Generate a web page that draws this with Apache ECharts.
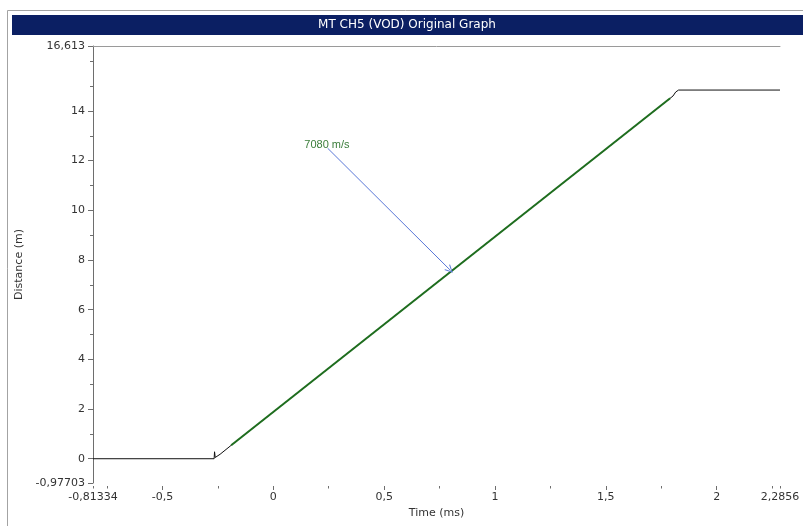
<!DOCTYPE html>
<html>
<head>
<meta charset="utf-8">
<title>MT CH5 (VOD) Original Graph</title>
<script src="https://cdn.jsdelivr.net/npm/echarts@6/dist/echarts.min.js"></script>
<style>
  html, body { margin: 0; padding: 0; background: #ffffff; }
  #chart { width: 803px; height: 526px; }
</style>
</head>
<body>
<div id="chart"></div>
<script>
// Axis extents (time in ms, distance in m)
const timeMin = -0.81334;
const timeMax = 2.2856;
const distMin = -0.97703;
const distMax = 16.613;

// Tick positions
const timeMajorTicks = [-0.5, 0, 0.5, 1, 1.5, 2];
const timeMinorTicks = [-0.81334, -0.75, -0.25, 0.25, 0.75, 1.25, 1.75, 2.25, 2.2856];
const timeLabels = [-0.81334, -0.5, 0, 0.5, 1, 1.5, 2, 2.2856];
const distMajorTicks = [-0.97703, 0, 2, 4, 6, 8, 10, 12, 14, 16.613];
const distMinorTicks = [1, 3, 5, 7, 9, 11, 13, 15, 16];
const distLabels = [-0.97703, 0, 2, 4, 6, 8, 10, 12, 14, 16.613];

// Recorded probe trace: [time ms, distance m]
const probeTrace = [
  [-0.81334, 0], [-0.267, 0], [-0.265, 0.28], [-0.262, 0.05], [-0.24, 0.18],
  [-0.19, 0.54], [0, 1.88], [0.5, 5.41], [1, 8.94], [1.5, 12.46],
  [1.803, 14.6], [1.815, 14.76], [1.828, 14.84], [2.2856, 14.84]
];

// Fitted velocity segment (7080 m/s)
const fitLine = [[-0.19, 0.54], [1.79, 14.51]];
const fitLabel = '7080 m/s';
const fitLabelAt = [0.14, 12.63];
const arrowFrom = [0.245, 12.5];
const arrowTo = [0.797, 7.6];

const fontFamily = '"DejaVu Sans", sans-serif';
const labelColor = '#333333';
const axisColor = '#6e6e6e';
const commaFmt = v => String(v).replace('.', ',');

const chart = echarts.init(document.getElementById('chart'), null, { renderer: 'canvas' });

chart.setOption({
  animation: false,
  backgroundColor: '#ffffff',
  title: {
    text: 'MT CH5 (VOD) Original Graph',
    left: 407,
    top: 18,
    textAlign: 'center',
    padding: 0,
    textStyle: { color: '#ffffff', fontFamily, fontSize: 12, fontWeight: 'normal', lineHeight: 14 }
  },
  graphic: [
    { type: 'line', shape: { x1: 7.5, y1: 10.5, x2: 803, y2: 10.5 }, style: { stroke: '#a3a3a3', lineWidth: 1 }, z: -1 },
    { type: 'line', shape: { x1: 7.5, y1: 10.5, x2: 7.5, y2: 526 }, style: { stroke: '#a3a3a3', lineWidth: 1 }, z: -1 },
    { type: 'rect', shape: { x: 12, y: 15, width: 791, height: 20 }, style: { fill: '#0b1f63' }, z: -1 }
  ],
  grid: { left: 93, right: 23, top: 46, bottom: 43, containLabel: false },
  xAxis: [
    {
      type: 'value', min: timeMin, max: timeMax, position: 'bottom', offset: 3,
      name: 'Time (ms)', nameLocation: 'middle', nameGap: 18,
      nameTextStyle: { color: labelColor, fontFamily, fontSize: 11 },
      axisLine: { show: false, onZero: false },
      axisTick: { show: true, customValues: timeMajorTicks, length: 4, lineStyle: { color: axisColor } },
      axisLabel: { customValues: timeLabels, formatter: commaFmt, color: labelColor, fontFamily, fontSize: 11, margin: 6 },
      splitLine: { show: false }
    },
    {
      type: 'value', min: timeMin, max: timeMax, position: 'bottom', offset: 3,
      axisLine: { show: false, onZero: false },
      axisTick: { show: true, customValues: timeMinorTicks, length: 2.5, lineStyle: { color: axisColor } },
      axisLabel: { show: false },
      splitLine: { show: false }
    },
    {
      type: 'value', min: timeMin, max: timeMax, position: 'top',
      axisLine: { show: true, onZero: false, lineStyle: { color: '#9a9a9a', width: 1 } },
      axisTick: { show: false },
      axisLabel: { show: false },
      splitLine: { show: false }
    }
  ],
  yAxis: [
    {
      type: 'value', min: distMin, max: distMax, position: 'left',
      name: 'Distance (m)', nameLocation: 'middle', nameGap: 63, nameRotate: 90,
      nameTextStyle: { color: labelColor, fontFamily, fontSize: 11 },
      axisLine: { show: true, onZero: false, lineStyle: { color: axisColor } },
      axisTick: { show: true, customValues: distMajorTicks, length: 5, lineStyle: { color: axisColor } },
      axisLabel: { customValues: distLabels, formatter: commaFmt, color: labelColor, fontFamily, fontSize: 11, margin: 8 },
      splitLine: { show: false }
    },
    {
      type: 'value', min: distMin, max: distMax, position: 'left',
      axisLine: { show: false, onZero: false },
      axisTick: { show: true, customValues: distMinorTicks, length: 3, lineStyle: { color: axisColor } },
      axisLabel: { show: false },
      splitLine: { show: false }
    }
  ],
  series: [
    {
      name: 'Trace', type: 'line', data: probeTrace, xAxisIndex: 0, yAxisIndex: 0,
      symbol: 'none', lineStyle: { color: '#111111', width: 1 }, z: 2
    },
    {
      name: 'Fit', type: 'line', data: fitLine, xAxisIndex: 0, yAxisIndex: 0,
      symbol: 'none', lineStyle: { color: '#1f6e1f', width: 2 }, z: 3,
      markLine: {
        silent: true, animation: false,
        symbol: ['none', 'path://M0,10 L5,0 L10,10 L8.6,10 L5,2.6 L1.4,10 Z'],
        symbolSize: [8, 8],
        lineStyle: { color: '#5a78d8', width: 1, type: 'solid' },
        label: { show: false },
        data: [[{ coord: arrowFrom }, { coord: arrowTo }]]
      },
      markPoint: {
        silent: true, animation: false,
        symbol: 'circle', symbolSize: 0,
        label: { show: true, position: 'right', distance: 0, formatter: fitLabel, color: '#3a7d3a', fontFamily: '"Liberation Sans", Arial, sans-serif', fontSize: 11 },
        data: [{ coord: fitLabelAt }]
      }
    }
  ]
});
</script>
</body>
</html>
